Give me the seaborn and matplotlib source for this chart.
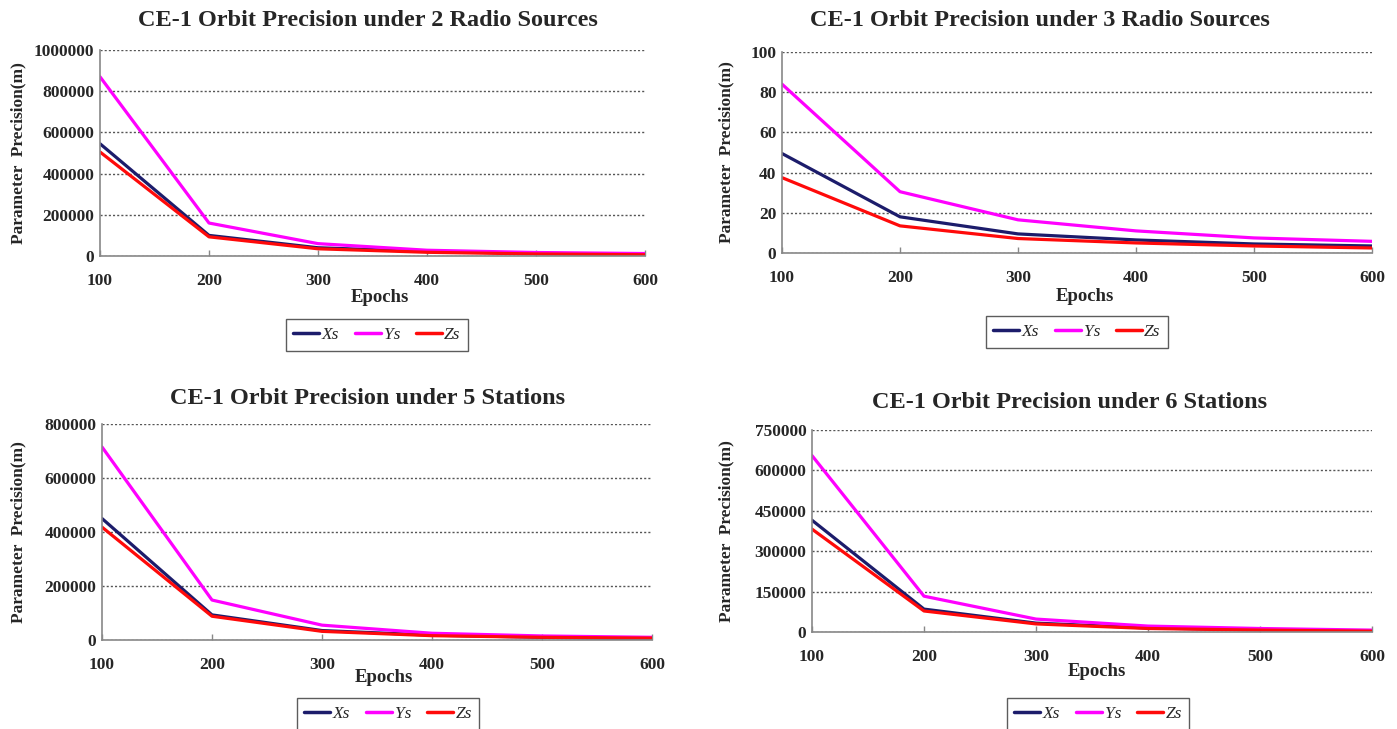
import numpy as np
import pandas as pd
import matplotlib
matplotlib.use("Agg")
import matplotlib.pyplot as plt
import seaborn as sns
from matplotlib.ticker import FuncFormatter

epochs = [100, 200, 300, 400, 500, 600]
series_names = ["Xs", "Ys", "Zs"]

p1_xs = [545000, 100000, 40000, 22000, 13000, 8000]
p1_ys = [870000, 160000, 60000, 28000, 17000, 12000]
p1_zs = [505000, 93000, 35000, 18000, 10000, 6000]

p2_xs = [49.5, 18.0, 9.5, 6.5, 4.5, 3.5]
p2_ys = [84.0, 30.5, 16.5, 11.0, 7.5, 5.8]
p2_zs = [37.5, 13.5, 7.2, 5.0, 3.5, 2.5]

p3_xs = [450000, 93000, 35000, 18000, 10000, 4000]
p3_ys = [715000, 148000, 55000, 25000, 15000, 10000]
p3_zs = [418000, 88000, 32000, 16000, 10000, 7000]

p4_xs = [415000, 85000, 33000, 15000, 8000, 4000]
p4_ys = [655000, 133000, 48000, 22000, 13000, 7000]
p4_zs = [382000, 78000, 30000, 13000, 7000, 3000]

titles = ["CE-1 Orbit Precision under 2 Radio Sources",
          "CE-1 Orbit Precision under 3 Radio Sources",
          "CE-1 Orbit Precision under 5 Stations",
          "CE-1 Orbit Precision under 6 Stations"]
yticks_list = [[0, 200000, 400000, 600000, 800000, 1000000],
               [0, 20, 40, 60, 80, 100],
               [0, 200000, 400000, 600000, 800000],
               [0, 150000, 300000, 450000, 600000, 750000]]

panels = [(p1_xs, p1_ys, p1_zs), (p2_xs, p2_ys, p2_zs),
          (p3_xs, p3_ys, p3_zs), (p4_xs, p4_ys, p4_zs)]

sns.set_theme(style="white")
plt.rcParams['font.family'] = ['Liberation Serif', 'DejaVu Serif']

palette = {"Xs": "#1c1c6b", "Ys": "#ff00ff", "Zs": "#ff0a0a"}

W, H = 1397, 729
fig = plt.figure(figsize=(W / 100, H / 100), dpi=100)
fig.patch.set_facecolor("white")

# axes boxes in pixels: left, top, right, bottom
boxes = [(100, 50, 645, 256), (782, 52, 1372, 253),
         (102, 424, 652, 640), (812, 430, 1372, 632)]
title_pos = [(368, 20), (1040, 20), (368, 398), (1070, 403)]
xlabel_pos = [(380, 298), (1085, 296), (384, 677), (1097, 671)]
ylabel_x = [18, 726, 18, 726]
legend_pos = [(377, 335), (1077, 332), (388, 714), (1098, 714)]

for i, (vals, box) in enumerate(zip(panels, boxes)):
    l, t, r, b = box
    ax = fig.add_axes([l / W, 1 - b / H, (r - l) / W, (b - t) / H])
    df = pd.DataFrame({
        "Epochs": epochs * 3,
        "value": list(vals[0]) + list(vals[1]) + list(vals[2]),
        "series": sum([[n] * len(epochs) for n in series_names], []),
    })
    sns.lineplot(data=df, x="Epochs", y="value", hue="series",
                 palette=palette, linewidth=2.3, ax=ax, legend=False)
    yt = yticks_list[i]
    ax.set_ylim(yt[0], yt[-1])
    ax.set_xlim(100, 600)
    ax.set_yticks(yt)
    ax.set_xticks(epochs)
    ax.yaxis.set_major_formatter(FuncFormatter(lambda v, p: f"{int(round(v))}"))
    ax.tick_params(axis="y", labelsize=12.5, length=0, pad=4)
    ax.tick_params(axis="x", labelsize=12.5, direction="in", length=4,
                   width=1.0, color="#888888", pad=12, bottom=True)
    for lab in ax.get_xticklabels() + ax.get_yticklabels():
        lab.set_fontweight("bold")
    ax.grid(axis="y", linestyle=(0, (1.5, 1.5)), color="#555555", linewidth=1.0)
    ax.grid(axis="x", visible=False)
    for s in ["top", "right"]:
        ax.spines[s].set_visible(False)
    for s in ["left", "bottom"]:
        ax.spines[s].set_color("#888888")
        ax.spines[s].set_linewidth(1.2)
    ax.set_xlabel("")
    ax.set_ylabel("")
    tx, ty = title_pos[i]
    fig.text(tx / W, 1 - ty / H, titles[i], ha="center", va="center",
             fontsize=17.5, fontweight="bold")
    xx, xy = xlabel_pos[i]
    fig.text(xx / W, 1 - xy / H, "Epochs", ha="center", va="center",
             fontsize=13.5, fontweight="bold")
    fig.text(ylabel_x[i] / W, 1 - ((t + b) / 2) / H, "Parameter  Precision(m)",
             ha="center", va="center", rotation=90, fontsize=12.5, fontweight="bold")
    handles = [plt.Line2D([], [], color=palette[n], linewidth=2.5) for n in series_names]
    lx, ly = legend_pos[i]
    leg = fig.legend(handles, series_names, loc="center",
                     bbox_to_anchor=(lx / W, 1 - ly / H), ncol=3,
                     frameon=True, fancybox=False, handlelength=1.5,
                     handletextpad=0.15, columnspacing=0.9, borderpad=0.45,
                     prop={"family": "Liberation Serif", "style": "italic", "size": 12.5})
    leg.get_frame().set_edgecolor("#333333")
    leg.get_frame().set_linewidth(1.0)

fig.savefig("out.png", dpi=100, facecolor="white")
